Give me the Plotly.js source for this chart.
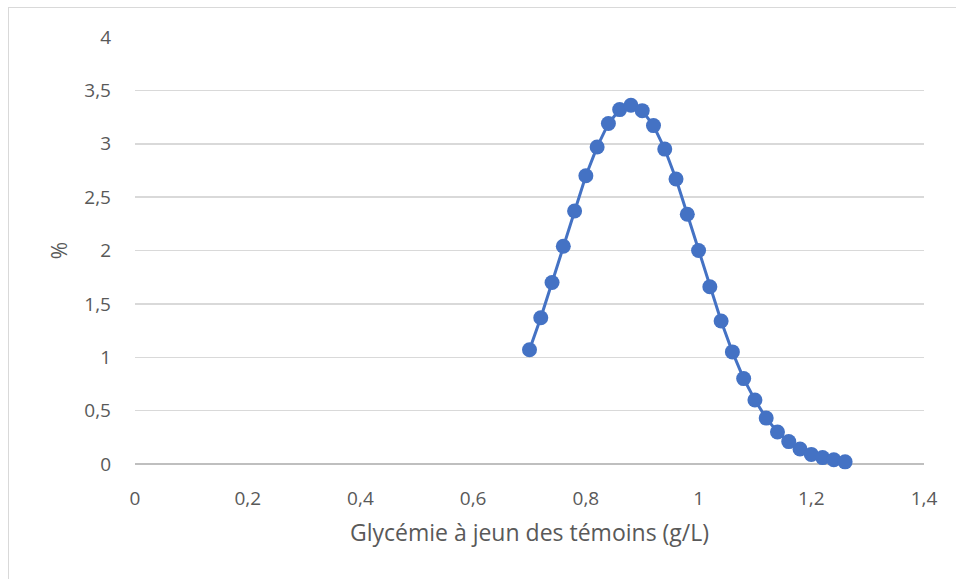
<!DOCTYPE html>
<html><head><meta charset="utf-8">
<script src="https://cdn.plot.ly/plotly-3.0.1.min.js"></script>
<style>html,body{margin:0;padding:0;background:#fff;}#c{width:956px;height:579px;position:relative;}
#frame{position:absolute;left:8px;top:7px;width:960px;height:600px;border:1px solid #d9d9d9;pointer-events:none;}</style>
</head><body>
<div id="c"></div><div id="frame"></div>
<script>
const glycemie = [0.70,0.72,0.74,0.76,0.78,0.80,0.82,0.84,0.86,0.88,0.90,0.92,0.94,0.96,0.98,1.00,1.02,1.04,1.06,1.08,1.10,1.12,1.14,1.16,1.18,1.20,1.22,1.24,1.26];
const pourcent = [1.07,1.37,1.70,2.04,2.37,2.70,2.97,3.19,3.32,3.36,3.31,3.17,2.95,2.67,2.34,2.00,1.66,1.34,1.05,0.80,0.60,0.43,0.30,0.21,0.14,0.09,0.06,0.04,0.02];
const xTicks = [0,0.2,0.4,0.6,0.8,1,1.2,1.4];
const yTicks = [0,0.5,1,1.5,2,2.5,3,3.5,4];
const font = 'Open Sans, Liberation Sans, sans-serif';
Plotly.newPlot('c', [{
  x: glycemie, y: pourcent, type: 'scatter', mode: 'lines+markers',
  line: {color: '#4472C4', width: 3},
  marker: {color: '#4472C4', size: 15},
  cliponaxis: false
}], {
  width: 956, height: 579,
  margin: {l: 135, r: 32, t: 37, b: 115},
  separators: ', ',
  paper_bgcolor: '#fff', plot_bgcolor: '#fff',
  showlegend: false,
  font: {family: font, color: '#595959', size: 19},
  xaxis: {
    range: [0, 1.4], tickvals: xTicks, showgrid: false, zeroline: false,
    showline: false, ticks: '', ticklabelstandoff: 21,
    tickfont: {size: 19, color: '#595959'},
    title: {text: 'Glycémie à jeun des témoins (g/L)', font: {size: 23, color: '#595959'}, standoff: 14}
  },
  yaxis: {
    range: [0, 4], tickvals: yTicks, showgrid: true, gridcolor: '#d9d9d9', gridwidth: 1.5,
    zeroline: true, zerolinecolor: '#bfbfbf', zerolinewidth: 1.5, showline: false,
    ticks: '', ticklabelstandoff: 23,
    tickfont: {size: 19, color: '#595959'},
    title: {text: '%', font: {size: 21, color: '#595959'}, standoff: 10}
  }
}, {displayModeBar: false, staticPlot: true});
</script>
</body></html>
